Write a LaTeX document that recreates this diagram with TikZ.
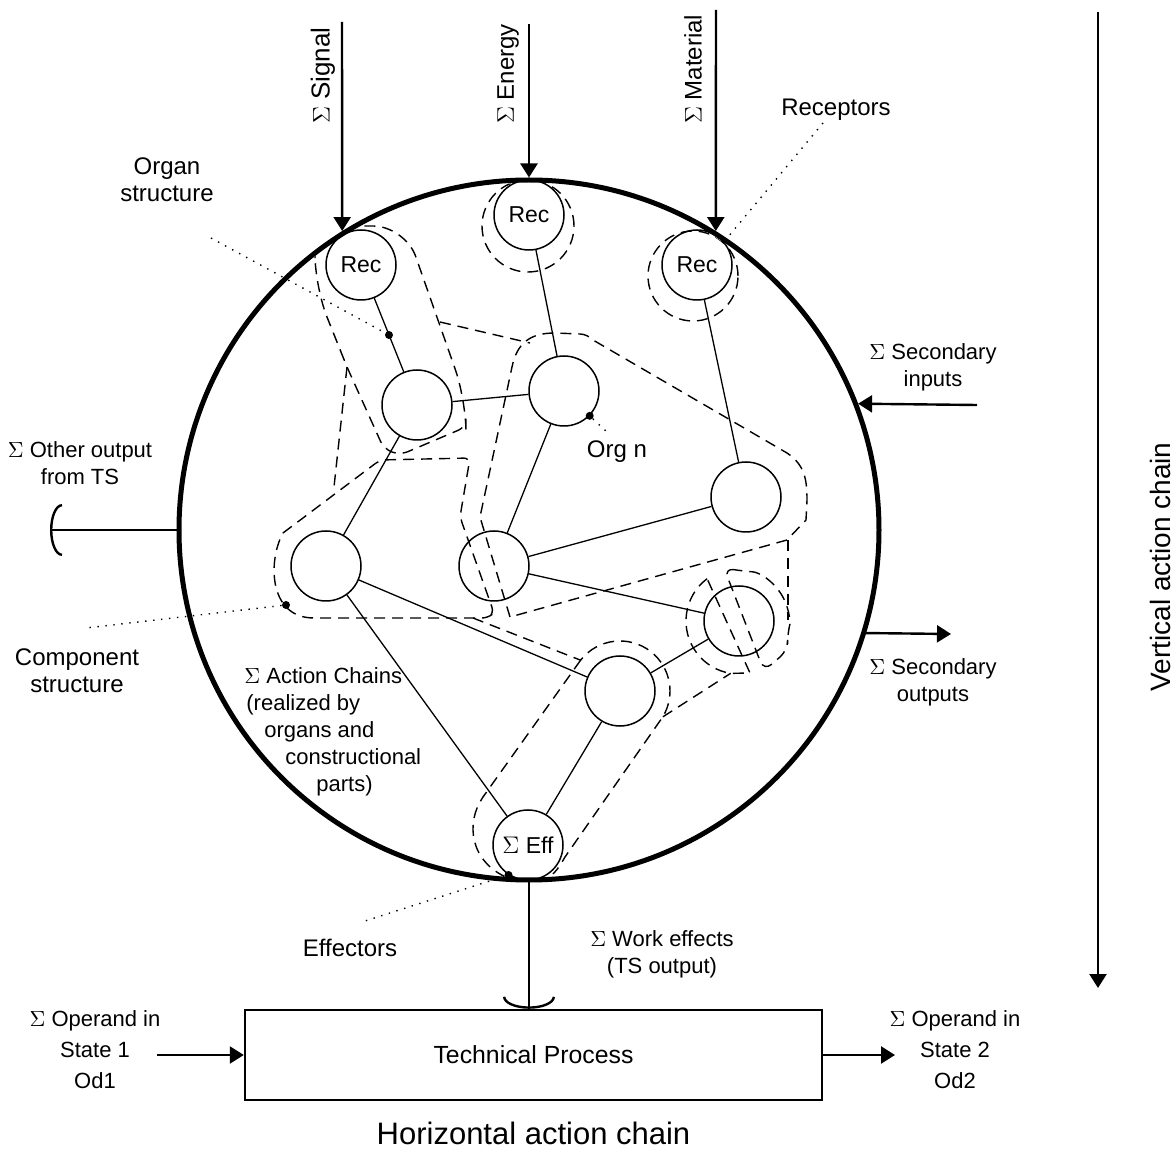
\documentclass[tikz,border=0pt]{standalone}
\usepackage{fontspec}
\setmainfont{Liberation Sans}
\usetikzlibrary{arrows.meta,positioning,calc}

\tikzset{
  sys/.style={circle, draw, line width=2.5pt, minimum size=350pt, inner sep=0pt},
  org/.style={circle, draw, line width=0.75pt, minimum size=35pt, inner sep=0pt, font=\fontsize{11.5}{13}\selectfont},
  link/.style={line width=0.65pt},
  group/.style={line width=0.7pt, dash pattern=on 5.5pt off 3.5pt},
  flow/.style={line width=1.2pt, -{Triangle[length=7pt,width=8.5pt]}},
  socket/.style={line width=1.2pt, -{Arc Barb[length=6pt,width=26pt]}},
  lead/.style={line width=0.7pt, dash pattern=on 0.7pt off 3.3pt},
  pin/.style={circle, fill, inner sep=0pt, minimum size=4pt},
  txt/.style={align=center, font=\fontsize{12}{13.5}\selectfont},
  stxt/.style={align=center, font=\fontsize{11}{13.5}\selectfont},
  big/.style={font=\fontsize{14}{16}\selectfont},
}

\begin{document}
\begin{tikzpicture}[x=0.5pt, y=0.5pt]
\useasboundingbox (0,0) rectangle (1175,-1155);

% technical system
\node[sys] (ts) at (529,-530) {};

% receptors, organs, effector
\node[org] (r1) at (361,-265) {Rec};
\node[org] (r2) at (529,-215) {Rec};
\node[org] (r3) at (697,-265) {Rec};
\node[org] (o1) at (417,-405) {};
\node[org] (o2) at (564,-391) {};
\node[org] (o3) at (746,-497) {};
\node[org] (o4) at (326,-566) {};
\node[org] (o5) at (494,-566) {};
\node[org] (o6) at (739,-621) {};
\node[org] (o7) at (620,-691) {};
\node[org] (eff) at (528,-845) {$\Sigma$ Eff};

% action chains
\path[link]
  (r1) edge (o1)
  (r2) edge (o2)
  (r3) edge (o3)
  (o1) edge (o2)
  (o1) edge (o4)
  (o2) edge (o5)
  (o5) edge (o3)
  (o4) edge (o7)
  (o4) edge (eff)
  (o5) edge (o6)
  (o6) edge (o7)
  (o7) edge (eff)
;

% organ and component structures
\begin{scope}
  \clip (ts.center) circle (347);
  \draw[group, rounded corners=16pt] (347,-367) -- (315,-287) -- (315,-226) -- (405,-226) -- (466,-400)
    [rounded corners=4pt] -- (466,-427) -- (400,-455) -- (384,-449) -- cycle;
  \draw[group] (347,-367) -- (334,-487);
  \draw[group] (440,-322) -- (530,-343);
  \draw[group, rounded corners=3pt] (283,-533) -- (380,-460) -- (470,-458) -- (460,-517) -- (494,-613)
    -- (488,-618) -- (320,-618) .. controls (268,-618) and (268,-560) .. (283,-533);
  \draw[group] (510,-617) -- (480,-517) -- (512,-367) .. controls (517,-343) and (530,-333) .. (555,-333)
    -- (580,-334) .. controls (585,-334) and (590,-337) .. (593,-340) -- (787,-453)
    .. controls (805,-465) and (807,-480) .. (807,-500) -- (806,-520) -- (787,-540) -- cycle;
  \draw[group] (473,-618) -- (580.6,-660.2) arc[start angle=142, end angle=-31, radius=50]
    -- (565,-857) .. controls (561,-864) and (558,-869) .. (553,-874);
  \draw[group] (580.6,-660.2) -- (483,-797) .. controls (465,-823) and (470,-862) .. (508,-878);
  \draw[group] (662.9,-716.8) -- (730.7,-673.3);
  \draw[group] (528,-226) circle (46);
  \draw[group] (693,-276) circle (45);
  \draw[group] (707.1,-578.7) arc[start angle=127, end angle=261, radius=53] -- (750,-673) -- cycle;
  \draw[group, rounded corners=5pt] (724,-568) -- (742.5,-571.1) arc[start angle=86, end angle=-15, radius=50]
    -- (788,-650) -- (764,-671) -- cycle;
  \draw[group] (788,-540) -- (788,-620);
\end{scope}

% inputs and outputs
\coordinate (sig) at (342,-22);
\coordinate (en) at (529,-24);
\coordinate (mat) at (716,-10);
\draw[flow] (sig) -- (ts.122);
\draw[flow] (en) -- (ts.north);
\draw[flow] (mat) -- (ts.58);
\node[txt, rotate=90, anchor=west, font=\fontsize{13}{15}\selectfont] (sigl) at (323,-131) {$\Sigma$ Signal};
\node[txt, rotate=90, anchor=west] (enl) at (508,-131) {$\Sigma$ Energy};
\node[txt, rotate=90, anchor=west] (matl) at (693,-131) {$\Sigma$ Material};

\coordinate (si) at (977,-405);
\coordinate (so) at (951,-634);
\coordinate (oo) at (50,-530);
\draw[flow] (si) -- (ts.21);
\draw[flow] (ts.-17) -- (so);
\draw[socket] (ts.west) -- (oo);

% technical process
\node[draw, line width=1.2pt, minimum width=288.5pt, minimum height=45pt,
  font=\fontsize{12.4}{14}\selectfont] (tp) at (533.5,-1055) {Technical Process};
\draw[socket] (ts.south) -- (ts.south |- tp.north);
\coordinate (oi) at (157,-1055);
\coordinate (oe) at (895,-1055);
\draw[flow] (oi) -- (tp.west);
\draw[flow] (tp.east) -- (oe);

% chains
\coordinate (vt) at (1098,-12);
\coordinate (vb) at (1098,-988);
\draw[flow] (vt) -- (vb);
\node[big, rotate=90] (vac) at (1160,-567) {Vertical action chain};
\node[big, font=\fontsize{15.5}{17}\selectfont, below=7pt of tp] (hac) {Horizontal action chain};

% labels
\node[txt] (osl) at (167,-180) {Organ\\structure};
\node[txt] (rcl) at (836,-110) {Receptors};
\node[stxt] (ool) at (80,-463) {$\Sigma$ Other output\\from TS};
\node[txt] (csl) at (77,-671) {Component\\structure};
\node[stxt] (sil) at (933,-367) {$\Sigma$ Secondary\\inputs};
\node[stxt] (sol) at (933,-682) {$\Sigma$ Secondary\\outputs};
\node[txt] (onl) at (617,-452) {Org n};
\node[stxt, align=left, anchor=north west, inner sep=0pt] (acl) at (244,-667)
  {$\Sigma$ Action Chains\\\hspace*{1pt}(realized by\\\hspace*{10pt}organs and\\
   \hspace*{20.5pt}constructional\\\hspace*{36pt}parts)};
\node[txt] (efl) at (350,-948) {Effectors};
\node[stxt] (wel) at (662,-954) {$\Sigma$ Work effects\\(TS output)};
\node[stxt, font=\fontsize{11}{15.5}\selectfont] (oil) at (95,-1050) {$\Sigma$ Operand in\\State 1\\Od1};
\node[stxt, font=\fontsize{11}{15.5}\selectfont] (oel) at (955,-1050) {$\Sigma$ Operand in\\State 2\\Od2};

% leaders
\node[pin] (d1) at ($(r1)!.5!(o1)$) {};
\node[pin] (d2) at (o2.-44) {};
\node[pin] (d3) at (286,-605) {};
\node[pin] (d4) at (eff.237) {};
\coordinate (osl-e) at (211,-238);
\coordinate (onl-e) at (608,-433);
\coordinate (csl-e) at (86,-628);
\coordinate (efl-e) at (365,-921);
\coordinate (rcl-e) at (823,-123);
\coordinate (rcl-s) at (728,-237);
\draw[lead] (osl-e) -- (d1);
\draw[lead] (d2) -- (onl-e);
\draw[lead] (d3) -- (csl-e);
\draw[lead] (d4) -- (efl-e);
\draw[lead] (rcl-e) -- (rcl-s);
\end{tikzpicture}
\end{document}
